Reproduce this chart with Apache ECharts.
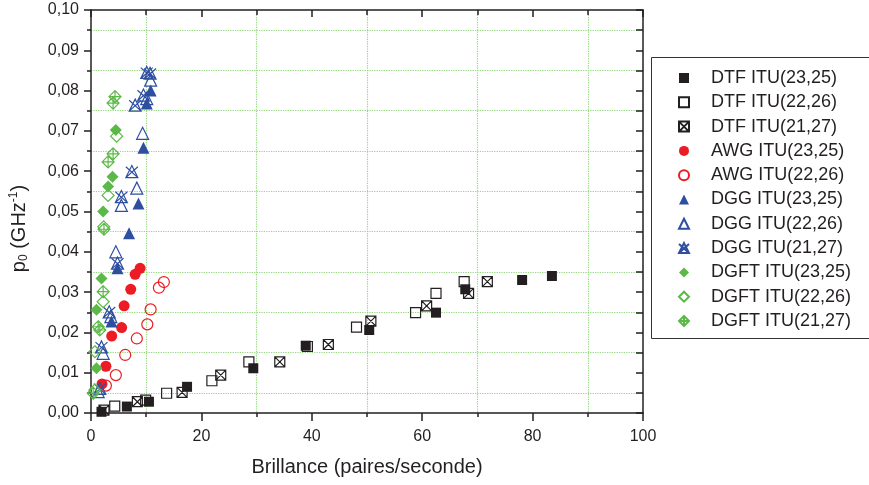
<!DOCTYPE html>
<html><head><meta charset="utf-8">
<script src="https://cdn.jsdelivr.net/npm/echarts@6/dist/echarts.min.js"></script>
<style>html,body{margin:0;padding:0;background:#fff}#c{width:869px;height:485px}</style>
</head><body><div id="c"></div>
<script>
const seriesNames = ['DTF ITU(23,25)','DTF ITU(22,26)','DTF ITU(21,27)','AWG ITU(23,25)','AWG ITU(22,26)','DGG ITU(23,25)','DGG ITU(22,26)','DGG ITU(21,27)','DGFT ITU(23,25)','DGFT ITU(22,26)','DGFT ITU(21,27)'];
const dtf2325 = [[1.9,0.0003],[6.5,0.0016],[10.5,0.0028],[17.4,0.0065],[29.4,0.0111],[38.9,0.0167],[50.4,0.0206],[62.5,0.0249],[67.8,0.0307],[78.1,0.0330],[83.5,0.0340]];
const dtf2226 = [[4.3,0.0017],[9.9,0.0032],[13.7,0.0049],[21.9,0.0080],[28.6,0.0127],[39.2,0.0165],[48.1,0.0213],[58.8,0.0249],[62.5,0.0297],[67.6,0.0326]];
const dtf2127 = [[2.35,0.0007],[8.4,0.0028],[16.5,0.0051],[23.5,0.0094],[34.2,0.0127],[43.0,0.0170],[50.7,0.0228],[60.8,0.0266],[68.4,0.0297],[71.8,0.0326]];
const awg2325 = [[2.0,0.0072],[2.7,0.0116],[3.75,0.0191],[5.55,0.0212],[6.0,0.0266],[7.2,0.0307],[8.0,0.0344],[8.9,0.0359]];
const awg2226 = [[2.7,0.0068],[4.5,0.0094],[6.2,0.0144],[8.3,0.0185],[10.2,0.0220],[10.8,0.0257],[12.3,0.0311],[13.2,0.0325]];
const dgg2325 = [[3.7,0.0227],[4.8,0.0359],[6.9,0.0446],[8.6,0.0520],[9.5,0.0658],[10.1,0.0768],[10.8,0.0800]];
const dgg2226 = [[1.3,0.0053],[2.2,0.0148],[3.6,0.0239],[4.5,0.0400],[5.5,0.0515],[8.3,0.0558],[9.35,0.0694],[10.1,0.0780],[10.8,0.0826]];
const dgg2127 = [[1.6,0.0061],[1.9,0.0164],[3.3,0.0251],[4.8,0.0372],[5.5,0.0537],[7.4,0.0599],[8.0,0.0764],[9.5,0.0789],[10.1,0.0845],[10.7,0.0843]];
const dgft2325 = [[1.0,0.0111],[1.0,0.0256],[1.9,0.0334],[2.2,0.0500],[3.1,0.0562],[3.9,0.0586],[4.5,0.0702]];
const dgft2226 = [[0.7,0.0057],[0.7,0.0152],[2.2,0.0276],[2.3,0.0462],[3.1,0.0540],[4.65,0.0687]];
const dgft2127 = [[0.4,0.0049],[1.3,0.0214],[1.6,0.0206],[2.2,0.0301],[2.35,0.0456],[3.1,0.0623],[4.0,0.0643],[4.0,0.0769],[4.35,0.0785]];
const xTicks = {min:0, max:100, interval:20};
const yTicks = {min:0, max:0.1, interval:0.01};

const BLACK='#231f20', RED='#ed1c24', BLUE='#2e4fa0', GREEN='#5bb947', GRIDC='#8fd67c';
const FONT = "Arial, 'Liberation Sans', sans-serif";
const crossSq = 'path://M0,0L10,0L10,10L0,10ZM0,0L10,10M10,0L0,10';
const crossTri = 'path://M5,0L10,10L0,10ZM0,1L10,10M10,1L0,10';
const crossDia = 'path://M5,0L10,5L5,10L0,5ZM5,0L5,10M0,5L10,5';
const styles = [
  {data:dtf2325, symbol:'rect', size:10, fill:BLACK, stroke:BLACK, bw:0},
  {data:dtf2226, symbol:'rect', size:10, fill:'rgba(255,255,255,0)', stroke:BLACK, bw:1.2},
  {data:dtf2127, symbol:crossSq, size:10, fill:'rgba(255,255,255,0)', stroke:BLACK, bw:1.2},
  {data:awg2325, symbol:'circle', size:11, fill:RED, stroke:RED, bw:0},
  {data:awg2226, symbol:'circle', size:11, fill:'rgba(255,255,255,0)', stroke:RED, bw:1.2},
  {data:dgg2325, symbol:'triangle', size:12, fill:BLUE, stroke:BLUE, bw:0},
  {data:dgg2226, symbol:'triangle', size:12, fill:'rgba(255,255,255,0)', stroke:BLUE, bw:1.2},
  {data:dgg2127, symbol:crossTri, size:12, fill:'rgba(255,255,255,0)', stroke:BLUE, bw:1.2},
  {data:dgft2325, symbol:'diamond', size:12, fill:GREEN, stroke:GREEN, bw:0},
  {data:dgft2226, symbol:'diamond', size:12, fill:'rgba(255,255,255,0)', stroke:GREEN, bw:1.2},
  {data:dgft2127, symbol:crossDia, size:12, fill:'rgba(255,255,255,0)', stroke:GREEN, bw:1.2}
];
const series = styles.map((s,i)=>({
  name: seriesNames[i], type:'scatter', xAxisIndex:0, yAxisIndex:0,
  data: s.data, symbol: s.symbol, symbolSize: s.size,
  itemStyle:{color:s.fill, borderColor:s.stroke, borderWidth:s.bw, opacity:1},
  emphasis:{disabled:true}
}));

const chart = echarts.init(document.getElementById('c'));
const axisLine = {show:true, onZero:false, lineStyle:{color:BLACK, width:1.5}};
chart.setOption({
  animation:false,
  textStyle:{fontFamily:FONT},
  grid:{left:91, right:226, top:10, bottom:72, containLabel:false},
  xAxis:[
    {type:'value', position:'bottom', min:xTicks.min, max:xTicks.max, interval:xTicks.interval,
     name:'Brillance (paires/seconde)', nameLocation:'middle', nameGap:44,
     nameTextStyle:{fontSize:20, color:BLACK, fontFamily:FONT},
     axisLine, axisTick:{show:true, inside:false, length:8, lineStyle:{color:BLACK, width:1.5}},
     minorTick:{show:true, splitNumber:2, length:4, lineStyle:{color:BLACK, width:1.5}},
     axisLabel:{fontSize:16, color:BLACK, margin:16, fontFamily:FONT},
     splitLine:{show:false},
     minorSplitLine:{show:true, lineStyle:{color:GRIDC, type:'dotted', width:1.2}}},
    {type:'value', position:'top', min:xTicks.min, max:xTicks.max, interval:xTicks.interval,
     axisLine, axisTick:{show:true, inside:true, length:7, lineStyle:{color:BLACK, width:1.5}},
     minorTick:{show:true, splitNumber:2, length:5, lineStyle:{color:BLACK, width:1.5}},
     axisLabel:{show:false}, splitLine:{show:false}}
  ],
  yAxis:[
    {type:'value', position:'left', min:yTicks.min, max:yTicks.max, interval:yTicks.interval,
     name:'p{sub|0} (GHz{sup|-1})', nameLocation:'middle', nameGap:61, nameRotate:90,
     nameTextStyle:{fontSize:20, color:BLACK, fontFamily:FONT, padding:[0,34,0,0],
       rich:{sub:{fontSize:12, verticalAlign:'bottom', padding:[10,0,0,0], color:BLACK, fontFamily:FONT},
             sup:{fontSize:12, verticalAlign:'top', padding:[0,0,8,0], color:BLACK, fontFamily:FONT}}},
     axisLine, axisTick:{show:true, inside:false, length:7, lineStyle:{color:BLACK, width:1.5}},
     minorTick:{show:true, splitNumber:2, length:4, lineStyle:{color:BLACK, width:1.5}},
     axisLabel:{fontSize:16, color:BLACK, margin:12, fontFamily:FONT,
       formatter:v=>v.toFixed(2).replace('.', ',')},
     splitLine:{show:false},
     minorSplitLine:{show:true, lineStyle:{color:GRIDC, type:'dotted', width:1.2}}},
    {type:'value', position:'right', min:yTicks.min, max:yTicks.max, interval:yTicks.interval,
     axisLine, axisTick:{show:true, inside:true, length:7, lineStyle:{color:BLACK, width:1.5}},
     minorTick:{show:true, splitNumber:2, length:7, lineStyle:{color:BLACK, width:1.5}},
     axisLabel:{show:false}, splitLine:{show:false}}
  ],
  legend:{
    orient:'vertical', left:678, top:69, padding:0,
    itemWidth:10, itemHeight:10, itemGap:6.3,
    data: seriesNames,
    textStyle:{fontSize:18, color:BLACK, fontFamily:FONT, lineHeight:18, padding:[0,0,0,17]},
    selectedMode:false
  },
  graphic:[{type:'rect', shape:{x:651.5, y:57.5, width:240, height:281},
    style:{fill:'none', stroke:'#333', lineWidth:1}, z:10, silent:true}],
  series
});
</script></body></html>
